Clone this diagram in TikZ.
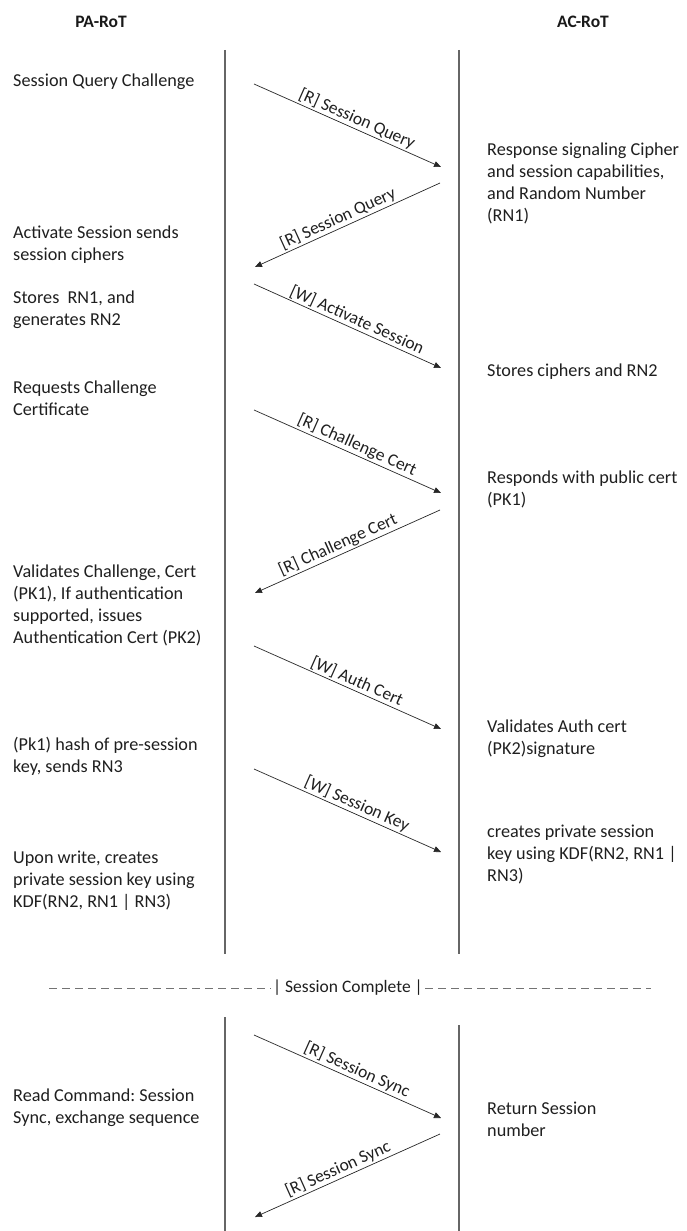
\documentclass[tikz,border=0pt]{standalone}
\usepackage{fontspec}
\setmainfont{Carlito}
\usetikzlibrary{arrows.meta}
\frenchspacing
\begin{document}
\begin{tikzpicture}[x=1pt,y=-1pt,
  txt/.style={anchor=base west, align=left, inner sep=0pt, font=\fontsize{18.2}{22}\selectfont, text=black!88},
  head/.style={font=\bfseries\fontsize{17.5}{20}\selectfont, text=black!90, inner sep=0pt},
  life/.style={draw=black!60, line width=1.2pt},
  msg/.style={draw=black!85, line width=0.7pt, -{Triangle[length=7pt,width=6pt]}},
  lbl/.style={sloped, above, pos=0.53, inner sep=1.5pt, font=\fontsize{17.5}{20}\selectfont, text=black!88},
  sep/.style={draw=black!55, line width=0.9pt, dash pattern=on 8pt off 5pt}]
\useasboundingbox (0,0) rectangle (687,1231);

% headers
\node[head] (pa) at (101,22) {PA-RoT};
\node[head] (ac) at (583,22) {AC-RoT};

% lifelines
\coordinate (L1t) at (225,50);  \coordinate (L1b) at (225,954);
\coordinate (R1t) at (459,50);  \coordinate (R1b) at (459,954);
\coordinate (L2t) at (225,1017); \coordinate (L2b) at (225,1231);
\coordinate (R2t) at (459,1025); \coordinate (R2b) at (459,1231);
\draw[life] (L1t) -- (L1b);
\draw[life] (R1t) -- (R1b);
\draw[life] (L2t) -- (L2b);
\draw[life] (R2t) -- (R2b);

% message end points
\coordinate (a1s) at (254,84);   \coordinate (a1e) at (441,167);
\coordinate (a2s) at (440,183);  \coordinate (a2e) at (255,267);
\coordinate (a3s) at (254,284);  \coordinate (a3e) at (441,368);
\coordinate (a4s) at (254,410);  \coordinate (a4e) at (441,493);
\coordinate (a5s) at (440,510);  \coordinate (a5e) at (255,593);
\coordinate (a6s) at (254,646);  \coordinate (a6e) at (441,729);
\coordinate (a7s) at (254,769);  \coordinate (a7e) at (441,852);
\coordinate (a8s) at (254,1035); \coordinate (a8e) at (441,1118);
\coordinate (a9s) at (440,1134); \coordinate (a9e) at (255,1217);

\draw[msg] (a1s) -- node[lbl] {[R] Session Query} (a1e);
\draw[msg] (a2s) -- node[lbl] {[R] Session Query} (a2e);
\draw[msg] (a3s) -- node[lbl] {[W] Activate Session} (a3e);
\draw[msg] (a4s) -- node[lbl] {[R] Challenge Cert} (a4e);
\draw[msg] (a5s) -- node[lbl] {[R] Challenge Cert} (a5e);
\draw[msg] (a6s) -- node[lbl] {[W] Auth Cert} (a6e);
\draw[msg] (a7s) -- node[lbl] {[W] Session Key} (a7e);
\draw[msg] (a8s) -- node[lbl] {[R] Session Sync} (a8e);
\draw[msg] (a9s) -- node[lbl] {[R] Session Sync} (a9e);

% left texts (anchored at the baseline of their last line)
\node[txt] (t1) at (13,86) {Session Query Challenge};
\node[txt] (t2) at (13,260) {Activate Session sends\\session ciphers};
\node[txt] (t3) at (13,325) {Stores\ \ RN1, and\\generates RN2};
\node[txt] (t4) at (13,415) {Requests Challenge\\Certificate};
\node[txt] (t5) at (13,643) {Validates Challenge, Cert\\(PK1), If authentication\\supported, issues\\Authentication Cert (PK2)};
\node[txt] (t6) at (13,772) {(Pk1) hash of pre-session\\key, sends RN3};
\node[txt] (t7) at (13,907) {Upon write, creates\\private session key using\\KDF(RN2, RN1 | RN3)};
\node[txt] (t8) at (13,1123) {Read Command: Session\\Sync, exchange sequence};

% right texts
\node[txt] (r1) at (487,221) {Response signaling Cipher\\and session capabilities,\\and Random Number\\(RN1)};
\node[txt] (r2) at (487,376) {Stores ciphers and RN2};
\node[txt] (r3) at (487,505) {Responds with public cert\\(PK1)};
\node[txt] (r4) at (487,754) {Validates Auth cert\\(PK2)signature};
\node[txt] (r5) at (487,881) {creates private session\\key using KDF(RN2, RN1 |\\RN3)};
\node[txt] (r6) at (487,1136) {Return Session\\number};

% separator
\node[font=\fontsize{17.5}{20}\selectfont, text=black!88, inner sep=2pt] (sc) at (348,988) {| Session Complete |};
\coordinate (d1) at (49,988);
\coordinate (d4) at (651,988);
\draw[sep] (d1) -- (sc.west);
\draw[sep] (sc.east) -- (d4);
\end{tikzpicture}
\end{document}
